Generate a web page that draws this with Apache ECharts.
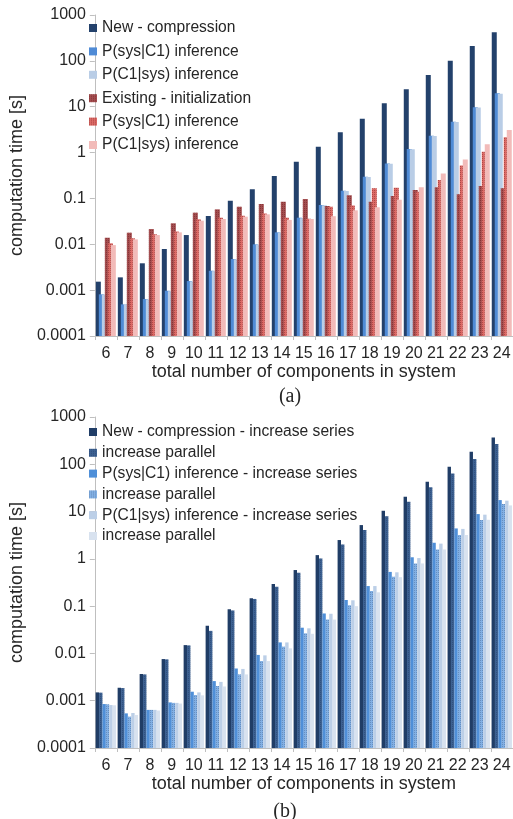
<!DOCTYPE html>
<html>
<head>
<meta charset="utf-8">
<script src="https://cdn.jsdelivr.net/npm/echarts@6/dist/echarts.min.js"></script>
<style>
html,body{margin:0;padding:0;background:#fff;}
#c{width:513px;height:819px;}
</style>
</head>
<body>
<div id="c"></div>
<script>
const categories = ['6','7','8','9','10','11','12','13','14','15','16','17','18','19','20','21','22','23','24'];
const yTickLabels = ['0.0001','0.001','0.01','0.1','1','10','100','1000'];

// chart (a)
const aNewCompression = [0.00153,0.0019,0.00385,0.0079,0.0159,0.0414,0.089,0.158,0.308,0.632,1.34,2.76,5.48,11.9,23.9,49,101,211,420];
const aNewPsys = [0.00081,0.00049,0.00064,0.00097,0.00158,0.00265,0.00477,0.00998,0.0182,0.038,0.072,0.147,0.298,0.58,1.2,2.33,4.71,9.7,19.6];
const aNewPc1 = [0.0008,0.0005,0.00063,0.00095,0.00155,0.0026,0.0047,0.0098,0.018,0.037,0.071,0.145,0.295,0.57,1.18,2.3,4.65,9.6,19.2];
const aExInit = [0.0139,0.0179,0.0215,0.0287,0.0489,0.0578,0.066,0.0755,0.085,0.097,0.068,0.117,0.085,0.113,0.153,0.175,0.123,0.187,0.166];
const aExPsys = [0.0105,0.0135,0.0165,0.019,0.035,0.038,0.042,0.047,0.038,0.036,0.066,0.07,0.166,0.171,0.14,0.252,0.52,1.04,2.15];
const aExPc1 = [0.0096,0.0128,0.0159,0.0182,0.0327,0.0356,0.040,0.045,0.034,0.0356,0.041,0.055,0.064,0.093,0.175,0.35,0.71,1.51,3.1];

// chart (b)
const bNewSeries = [0.0015,0.00188,0.00367,0.0076,0.015,0.0385,0.0855,0.146,0.293,0.58,1.2,2.5,5.18,10.4,20.6,42.7,88.5,184,370];
const bNewPar = [0.00148,0.00185,0.0036,0.0075,0.0148,0.030,0.081,0.142,0.257,0.51,1.02,2.02,4.06,8.0,16.1,32.5,64,129,267];
const bPsysSeries = [0.00085,0.00054,0.00064,0.00092,0.00155,0.0026,0.0048,0.0093,0.0171,0.035,0.070,0.135,0.266,0.53,1.08,2.19,4.4,8.85,17.5];
const bPsysPar = [0.00084,0.00046,0.00064,0.0009,0.00132,0.00205,0.0036,0.0069,0.0139,0.0266,0.0525,0.105,0.208,0.42,0.80,1.58,3.19,6.6,14.4];
const bPc1Series = [0.00081,0.00055,0.00064,0.0009,0.0015,0.0025,0.0047,0.0091,0.0171,0.034,0.069,0.133,0.266,0.52,1.04,2.1,4.3,8.6,17];
const bPc1Par = [0.0008,0.0005,0.00062,0.00087,0.0013,0.002,0.0036,0.0069,0.0128,0.026,0.052,0.10,0.196,0.41,0.8,1.58,3.2,6.7,13.5];

const dotsRed = {symbol:'rect', symbolSize:1, dashArrayX:[1,1], dashArrayY:[1,1], color:'rgba(90,10,10,0.35)'};
const dotsBlue = {symbol:'rect', symbolSize:1, dashArrayX:[1,1], dashArrayY:[1,1], color:'rgba(10,25,60,0.22)'};

const aLegend = [
  {id:'a1', label:'New - compression', color:'#23416b', data:aNewCompression},
  {id:'a2', label:'P(sys|C1) inference', color:'#4f8bd6', data:aNewPsys},
  {id:'a3', label:'P(C1|sys) inference', color:'#b9cde6', data:aNewPc1},
  {id:'a4', label:'Existing - initialization', color:'#a34e50', data:aExInit, decal:dotsRed},
  {id:'a5', label:'P(sys|C1) inference', color:'#dc6a66', data:aExPsys, decal:dotsRed},
  {id:'a6', label:'P(C1|sys) inference', color:'#f2bbb9', data:aExPc1}
];
const bLegend = [
  {id:'b1', label:'New - compression - increase series', color:'#203d66', data:bNewSeries},
  {id:'b2', label:'increase parallel', color:'#3d6191', data:bNewPar, decal:dotsBlue},
  {id:'b3', label:'P(sys|C1) inference - increase series', color:'#4f8fd8', data:bPsysSeries},
  {id:'b4', label:'increase parallel', color:'#82b0e4', data:bPsysPar, decal:dotsBlue},
  {id:'b5', label:'P(C1|sys) inference - increase series', color:'#bccfe7', data:bPc1Series},
  {id:'b6', label:'increase parallel', color:'#d8e2ef', data:bPc1Par}
];
const labelMap = {};
aLegend.concat(bLegend).forEach(s => labelMap[s.id] = s.label);

const FONT = 'Liberation Sans, Arial, sans-serif';
const axisGray = '#bfbfbf';
const txt = '#262626';

function yAxisCfg(gi){
  return {
    type:'log', logBase:10, gridIndex:gi, min:0.0001, max:1000, startValue:0.0001,
    name:'computation time [s]', nameLocation:'middle', nameGap:47,
    nameTextStyle:{fontFamily:FONT, fontSize:18, color:txt},
    axisLine:{show:true, lineStyle:{color:axisGray}},
    axisTick:{show:true, length:5, lineStyle:{color:axisGray}},
    splitLine:{show:false},
    minorTick:{show:false},
    axisLabel:{fontFamily:FONT, fontSize:16, color:txt, margin:9,
      formatter: v => { const e = Math.round(Math.log10(v)); return yTickLabels[e+4]; }}
  };
}
function xAxisCfg(gi){
  return {
    type:'category', gridIndex:gi, data:categories,
    name:'total number of components in system', nameLocation:'middle', nameGap:25,
    nameTextStyle:{fontFamily:FONT, fontSize:18, color:txt},
    axisLine:{show:true, lineStyle:{color:axisGray}},
    axisTick:{show:true, length:4, lineStyle:{color:axisGray}},
    axisLabel:{fontFamily:FONT, fontSize:16, color:txt, margin:10, interval:0}
  };
}

const series = [];
aLegend.forEach(s => series.push({
  type:'bar', name:s.id, xAxisIndex:0, yAxisIndex:0, data:s.data,
  barWidth:5, barGap:'-40%', itemStyle:Object.assign({color:s.color}, s.decal ? {decal:s.decal} : {})
}));
bLegend.forEach(s => series.push({
  type:'bar', name:s.id, xAxisIndex:1, yAxisIndex:1, data:s.data,
  barWidth:3.4, barGap:'0%', itemStyle:Object.assign({color:s.color}, s.decal ? {decal:s.decal} : {})
}));

function legendCfg(list, top, gap){
  return {
    orient:'vertical', left:89, top:top, padding:0, itemWidth:8, itemHeight:8, itemGap:gap,
    icon:'rect', selectedMode:false,
    data:list.map(s=>s.id),
    formatter: n => labelMap[n],
    textStyle:{fontFamily:FONT, fontSize:15.6, color:txt, lineHeight:16}
  };
}

const chart = echarts.init(document.getElementById('c'), null, {renderer:'canvas'});
chart.setOption({
  animation:false,
  backgroundColor:'#fff',
  title:[
    {text:'(a)', left:285, top:382, textAlign:'center', textStyle:{fontFamily:'Liberation Serif, Times New Roman, serif', fontSize:20, fontWeight:'normal', color:txt}},
    {text:'(b)', left:280, top:797, textAlign:'center', textStyle:{fontFamily:'Liberation Serif, Times New Roman, serif', fontSize:20, fontWeight:'normal', color:txt}}
  ],
  legend:[legendCfg(aLegend, 20, 7.4), legendCfg(bLegend, 424, 4.8)],
  grid:[
    {left:72, top:15, width:443, height:321},
    {left:72, top:417, width:443, height:331}
  ],
  xAxis:[xAxisCfg(0), xAxisCfg(1)],
  yAxis:[yAxisCfg(0), yAxisCfg(1)],
  series:series
});
</script>
</body>
</html>
